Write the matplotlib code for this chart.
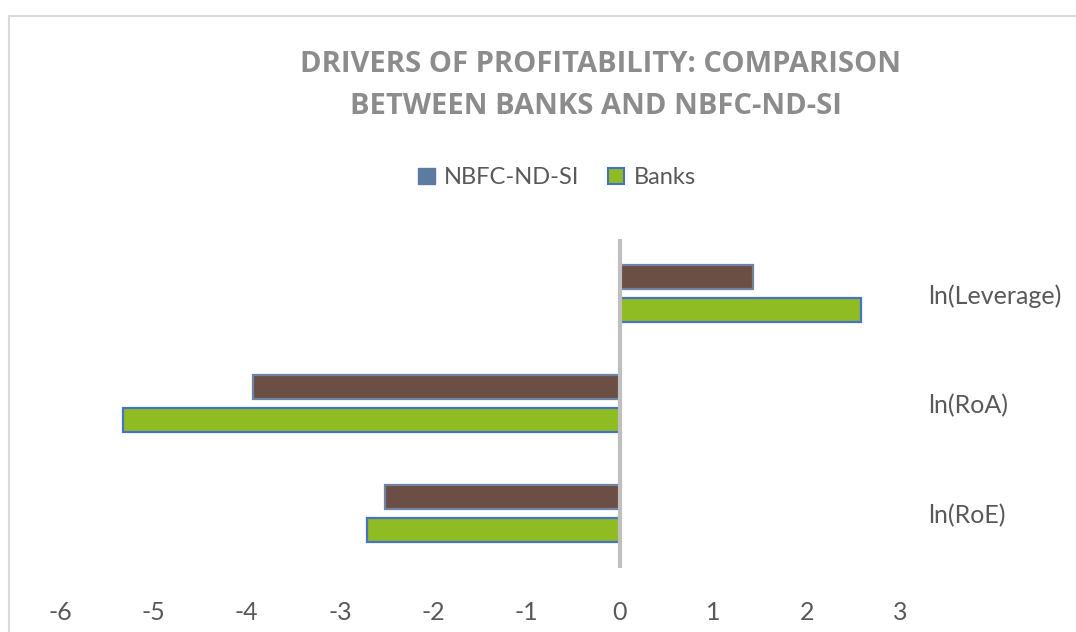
import matplotlib
matplotlib.use("Agg")
import matplotlib.pyplot as plt
from matplotlib.patches import Rectangle

categories = ['ln(RoE)', 'ln(RoA)', 'ln(Leverage)']
nbfc = [-2.52, -3.93, 1.43]
banks = [-2.71, -5.32, 2.58]
xticks = [-6, -5, -4, -3, -2, -1, 0, 1, 2, 3]

W, H = 1076, 632
fig = plt.figure(figsize=(W / 100, H / 100), dpi=100)

# chart area frame (Excel style)
fig.patches.append(Rectangle((9 / W, -0.1), 1.2, (H - 16) / H + 0.1,
                             transform=fig.transFigure, fill=False,
                             edgecolor='#D9D9D9', linewidth=1.5))

ax = fig.add_axes([60 / W, (H - 568) / H, 840 / W, 329 / H])

pos = list(range(len(categories)))
off = 0.15
hgt = 0.22
ax.barh([p + off for p in pos], nbfc, height=hgt, color='#6B4F45',
        edgecolor='#6F84A3', linewidth=1.6, label='NBFC-ND-SI')
ax.barh([p - off for p in pos], banks, height=hgt, color='#8FBC22',
        edgecolor='#4472C4', linewidth=1.6, label='Banks')

ax.axvline(0, color='#BFBFBF', linewidth=3, zorder=3)

ax.set_xlim(-6, 3)
ax.set_ylim(-0.5, 2.5)
ax.set_xticks(xticks)
ax.set_xticklabels([str(t) for t in xticks])
ax.tick_params(axis='x', length=0, pad=24, labelsize=18, labelcolor='#595959')
ax.yaxis.tick_right()
ax.set_yticks(pos)
ax.set_yticklabels(categories)
ax.tick_params(axis='y', length=0, pad=20, labelsize=18, labelcolor='#595959')
for lab in ax.get_xticklabels() + ax.get_yticklabels():
    lab.set_fontfamily('Lato')
for s in ax.spines.values():
    s.set_visible(False)

fig.text(600 / W, 1 - 65 / H, 'DRIVERS OF PROFITABILITY: COMPARISON',
         ha='center', va='center', fontsize=21, fontweight='bold',
         color='#8C8C8C', family='Open Sans')
fig.text(596 / W, 1 - 107 / H, 'BETWEEN BANKS AND NBFC-ND-SI',
         ha='center', va='center', fontsize=21, fontweight='bold',
         color='#8C8C8C', family='Open Sans')

h1 = Rectangle((0, 0), 1, 1, facecolor='#5B7BA0', edgecolor='#5B7BA0')
h2 = Rectangle((0, 0), 1, 1, facecolor='#8FBC22', edgecolor='#4472C4', linewidth=1.5)
fig.legend([h1, h2], ['NBFC-ND-SI', 'Banks'], loc='center',
           bbox_to_anchor=(557 / W, 1 - 178 / H), ncol=2, frameon=False,
           prop={'family': 'Lato', 'size': 17}, labelcolor='#595959',
           handlelength=0.7, handleheight=0.7, handletextpad=0.4,
           columnspacing=1.2)

fig.savefig('out.png', dpi=100)
